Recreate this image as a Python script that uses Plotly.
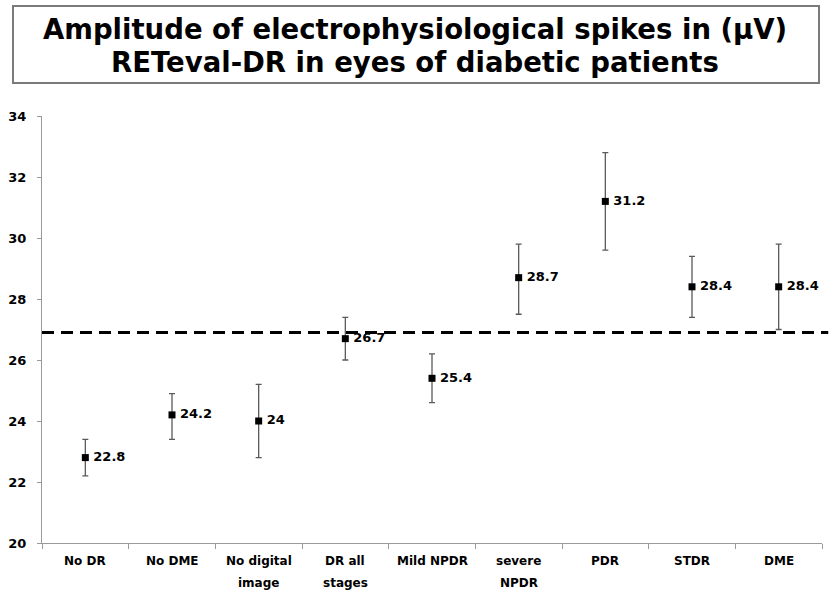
import plotly.graph_objects as go

categories = ["No DR", "No DME", "No digital<br>image", "DR all<br>stages", "Mild NPDR",
              "severe<br>NPDR", "PDR", "STDR", "DME"]
means = [22.8, 24.2, 24.0, 26.7, 25.4, 28.7, 31.2, 28.4, 28.4]
err_plus = [0.6, 0.7, 1.2, 0.7, 0.8, 1.1, 1.6, 1.0, 1.4]
err_minus = [0.6, 0.8, 1.2, 0.7, 0.8, 1.2, 1.6, 1.0, 1.4]
labels = ["22.8", "24.2", "24", "26.7", "25.4", "28.7", "31.2", "28.4", "28.4"]
reference_line = 26.9
y_ticks = [20, 22, 24, 26, 28, 30, 32, 34]
title_lines = ["Amplitude of electrophysiological spikes in (µV)",
               "RETeval-DR in eyes of diabetic patients"]

FONT = "DejaVu Sans"

fig = go.Figure()
fig.add_trace(go.Scatter(
    x=categories, y=means, mode="markers+text",
    text=["\u2009" + s for s in labels], textposition="middle right",
    textfont=dict(family=FONT, size=13, color="black", weight="bold"),
    marker=dict(symbol="square", size=7, color="black"),
    error_y=dict(type="data", symmetric=False, array=err_plus, arrayminus=err_minus,
                 color="#5a5a5a", thickness=1.3, width=3),
    cliponaxis=False, showlegend=False,
))

fig.add_shape(type="line", xref="x domain", yref="y", x0=0, x1=1.008,
              y0=reference_line, y1=reference_line,
              line=dict(color="black", width=3, dash="12px,7px"))

L, T, W, H = 42, 116, 780, 427
def px_x(p): return (p - L) / W
def px_y(p): return (T + H - p) / H

# title box
fig.add_shape(type="rect", xref="paper", yref="paper",
              x0=px_x(13), x1=px_x(819), y0=px_y(83), y1=px_y(6),
              line=dict(color="#7a7a7a", width=2), fillcolor="white", layer="below")
for line, ypx in zip(title_lines, [29, 62]):
    fig.add_annotation(xref="paper", yref="paper", x=px_x(415), y=px_y(ypx),
                       text=line, showarrow=False, xanchor="center", yanchor="middle",
                       font=dict(family=FONT, size=27.5, color="black", weight="bold"))

# category labels (two-line ones with reference line spacing)
for cat in categories:
    for i, part in enumerate(cat.split("<br>")):
        fig.add_annotation(x=cat, xref="x", yref="paper", y=px_y(561 + 22 * i),
                           text=part, showarrow=False, xanchor="center", yanchor="middle",
                           font=dict(family=FONT, size=12, color="black", weight="bold"))

fig.update_layout(
    width=831, height=592,
    margin=dict(l=L, r=831 - L - W, t=T, b=592 - T - H),
    paper_bgcolor="white", plot_bgcolor="white",
    font=dict(family=FONT, color="black"),
    xaxis=dict(type="category", tickson="boundaries", ticks="outside", ticklen=5,
               tickcolor="#9a9a9a", showline=True, linecolor="#9a9a9a", linewidth=1,
               showgrid=False, showticklabels=False, range=[-0.5, 8.5]),
    yaxis=dict(range=[20, 34], tickvals=y_ticks, ticks="outside", ticklen=4,
               tickcolor="#9a9a9a", showline=True, linecolor="#9a9a9a", linewidth=1,
               showgrid=False, zeroline=False, ticklabelstandoff=8,
               tickfont=dict(family=FONT, size=13, weight="bold")),
)

fig.write_html("out.html")
